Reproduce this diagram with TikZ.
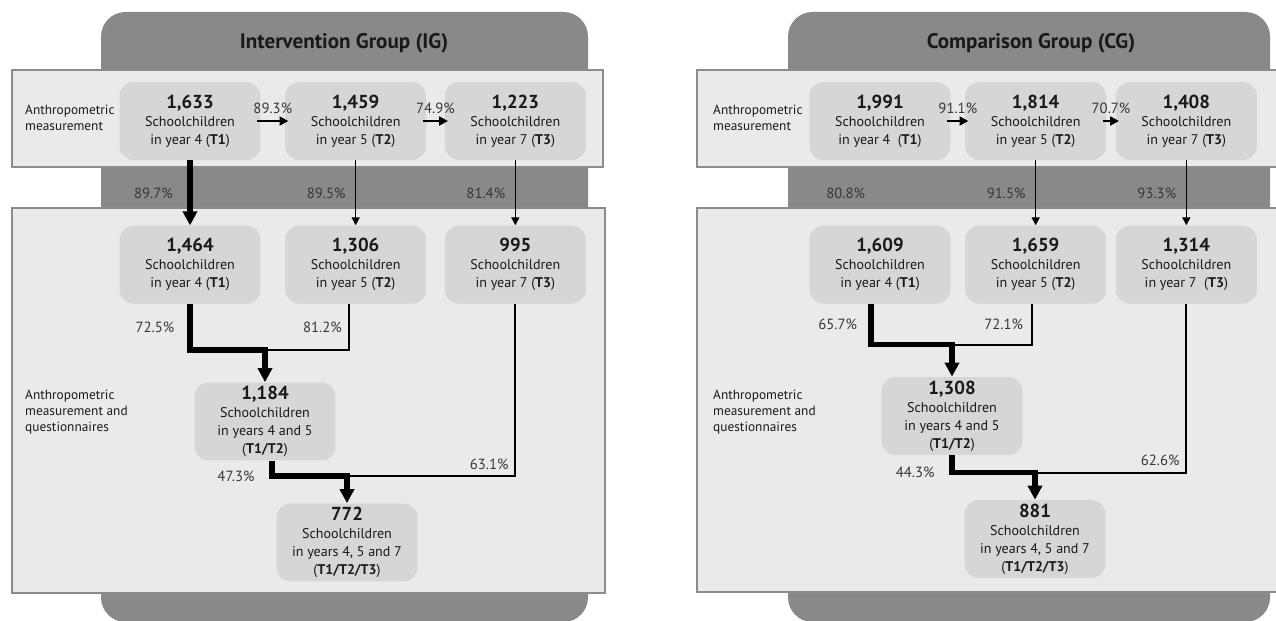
\documentclass[tikz,border=0pt]{standalone}
\usepackage{fontspec}
\setmainfont{PT Sans}
\usetikzlibrary{positioning, arrows.meta}

\definecolor{groupgray}{RGB}{137,137,137}
\definecolor{bandgray}{RGB}{234,234,234}
\definecolor{bandline}{RGB}{140,140,140}
\definecolor{boxgray}{RGB}{214,214,214}
\definecolor{pctgray}{RGB}{55,55,55}
\definecolor{inkgray}{RGB}{25,25,25}

\newcommand{\countfont}{\fontsize{10.7}{12}\selectfont\bfseries}

\tikzset{
  grp/.style={fill=groupgray, rounded corners=14pt},
  band/.style={fill=bandgray, draw=bandline, line width=0.6pt},
  kids/.style={fill=boxgray, rounded corners=8pt, minimum width=2.82cm, minimum height=1.56cm,
    inner sep=1pt, align=center, text=inkgray, font=\fontsize{8}{10.2}\selectfont},
  title/.style={font=\fontsize{12}{14}\selectfont\bfseries, text=inkgray},
  side/.style={align=left, font=\fontsize{7.6}{9}\selectfont, text=inkgray},
  pct/.style={font=\fontsize{8.4}{9.5}\selectfont, text=pctgray},
  nextstep/.style={line width=1.4pt, -{Triangle[length=5pt, width=5pt]}, shorten <=-2pt, shorten >=-2pt},
  thinflow/.style={line width=0.9pt, -{Triangle[length=4.5pt, width=4.5pt]}},
  thickflow/.style={line width=3pt, -{Triangle[length=8pt, width=8pt]}},
  thinjoin/.style={line width=1.1pt},
  thickjoin/.style={line width=3.2pt},
}

\begin{document}
\begin{tikzpicture}[x=0.02cm, y=-0.02cm]
		\useasboundingbox (0,0) rectangle (1276,621);
		
		% backgrounds
		\fill[grp] (101,12) rectangle (588,622);
		\fill[grp] (788,12) rectangle (1270,622);
		\draw[band] (12,70) rectangle (603,167);
		\draw[band] (12,208) rectangle (605,593);
		\draw[band] (697,70) rectangle (1280,167);
		\draw[band] (697,208) rectangle (1280,592);
		
		% intervention group
		\node[title] (igt) at (344,43) {Intervention Group (IG)};
		\node[side, anchor=west] (iml) at (19,118) {Anthropometric\\measurement};
		\node[side, anchor=west] (iqn) at (19,412) {Anthropometric\\measurement and\\questionnaires};
		
		\node[kids] (ia1) at (190,121) {{\countfont 1,633}\\Schoolchildren\\in year 4 (\textbf{T1})};
		\node[kids, right=0.48cm of ia1] (ia2) {{\countfont 1,459}\\Schoolchildren\\in year 5 (\textbf{T2})};
		\node[kids, right=0.36cm of ia2] (ia3) {{\countfont 1,223}\\Schoolchildren\\in year 7 (\textbf{T3})};
		\draw[nextstep] (ia1) -- node[pct, above]{89.3\%} (ia2);
		\draw[nextstep] (ia2) -- node[pct, above]{74.9\%} (ia3);
		
		\node[kids, below=1.3cm of ia1] (ib1) {{\countfont 1,464}\\Schoolchildren\\in year 4 (\textbf{T1})};
		\node[kids, below=1.3cm of ia2] (ib2) {{\countfont 1,306}\\Schoolchildren\\in year 5 (\textbf{T2})};
		\node[kids, below=1.3cm of ia3] (ib3) {{\countfont 995}\\Schoolchildren\\in year 7 (\textbf{T3})};
		\draw[thickflow] (ia1) -- node[pct, left=5pt]{89.7\%} (ib1);
		\draw[thinflow] (ia2) -- node[pct, left=2pt]{89.5\%} (ib2);
		\draw[thinflow] (ia3) -- node[pct, left=2pt]{81.4\%} (ib3);
		
		\node[kids] (ic) at (265,421.5) {{\countfont 1,184}\\Schoolchildren\\in years 4 and 5\\(\textbf{T1/T2})};
		\coordinate[above=0.64cm of ic] (ij1);
		\draw[thinjoin] ([xshift=-0.14cm]ib2.south) |- node[pct, pos=0.25, left=0pt]{81.2\%} (ij1);
		\draw[thickjoin] (ib1.south) |- node[pct, pos=0.25, left=4pt]{72.5\%} (ij1);
		\draw[thickflow] ([yshift=1.6pt]ij1) -- (ic);
		
		\node[kids] (id) at (347,542.5) {{\countfont 772}\\Schoolchildren\\in years 4, 5 and 7\\(\textbf{T1/T2/T3})};
		\coordinate[above=0.54cm of id] (ij2);
		\draw[thinjoin] (ib3.south) |- node[pct, pos=0.5, above left]{63.1\%} (ij2);
		\draw[thickjoin] ([xshift=0.14cm]ic.south) |- node[pct, pos=0.5, left=5pt]{47.3\%} (ij2);
		\draw[thickflow] ([yshift=1.6pt]ij2) -- (id);
		
		% comparison group
		\node[title] (cgt) at (1031,43) {Comparison Group (CG)};
		\node[side, anchor=west] (cml) at (707,118) {Anthropometric\\measurement};
		\node[side, anchor=west] (cqn) at (707,412) {Anthropometric\\measurement and\\questionnaires};
		
		\node[kids] (ra1) at (880,121) {{\countfont 1,991}\\Schoolchildren\\in year 4~ (\textbf{T1})};
		\node[kids, right=0.28cm of ra1] (ra2) {{\countfont 1,814}\\Schoolchildren\\in year 5 (\textbf{T2})};
		\node[kids, right=0.18cm of ra2] (ra3) {{\countfont 1,408}\\Schoolchildren\\in year 7 (\textbf{T3})};
		\draw[nextstep] (ra1) -- node[pct, above]{91.1\%} (ra2);
		\draw[nextstep] (ra2) -- node[pct, above]{70.7\%} (ra3);
		
		\node[kids, below=1.3cm of ra1] (rb1) {{\countfont 1,609}\\Schoolchildren\\in year 4 (\textbf{T1})};
		\node[kids, below=1.3cm of ra2] (rb2) {{\countfont 1,659}\\Schoolchildren\\in year 5 (\textbf{T2})};
		\node[kids, below=1.3cm of ra3] (rb3) {{\countfont 1,314}\\Schoolchildren\\in year 7~ (\textbf{T3})};
		\path (ra1) -- node[pct, left=5pt]{80.8\%} (rb1);
		\draw[thinflow] (ra2) -- node[pct, left=2pt]{91.5\%} (rb2);
		\draw[thinflow] (ra3) -- node[pct, left=2pt]{93.3\%} (rb3);
		
		\node[kids] (rc) at (952,416) {{\countfont 1,308}\\Schoolchildren\\in years 4 and 5\\(\textbf{T1/T2})};
		\coordinate[above=0.64cm of rc] (rj1);
		\draw[thinjoin] ([xshift=-0.08cm]rb2.south) |- node[pct, pos=0.25, left=1pt]{72.1\%} (rj1);
		\draw[thickjoin] ([xshift=-0.18cm]rb1.south) |- node[pct, pos=0.25, left=3pt]{65.7\%} (rj1);
		\draw[thickflow] ([yshift=1.6pt]rj1) -- (rc);
		
		\node[kids] (rd) at (1035,539) {{\countfont 881}\\Schoolchildren\\in years 4, 5 and 7\\(\textbf{T1/T2/T3})};
		\coordinate[above=0.54cm of rd] (rj2);
		\draw[thinjoin] (rb3.south) |- node[pct, pos=0.5, above left]{62.6\%} (rj2);
		\draw[thickjoin] (rc.south) |- node[pct, pos=0.5, left=5pt]{44.3\%} (rj2);
		\draw[thickflow] ([yshift=1.6pt]rj2) -- (rd);
		
	\end{tikzpicture}
\end{document}
